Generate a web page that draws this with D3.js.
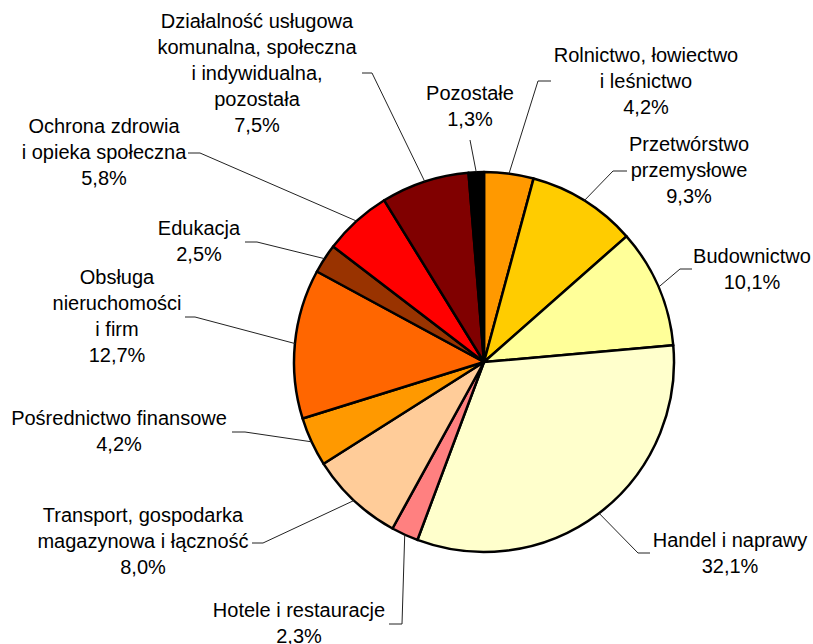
<!DOCTYPE html>
<html>
<head>
<meta charset="utf-8">
<script src="https://cdn.jsdelivr.net/npm/d3@7"></script>
<style>
  html, body { margin: 0; padding: 0; background: #fff; }
  svg { display: block; }
  text { font-family: "Liberation Sans", Arial, sans-serif; font-size: 20px; fill: #000; }
</style>
</head>
<body>
<svg id="chart" width="813" height="644"></svg>
<script>
// ---- data ----
const categories = [
  ["Rolnictwo, łowiectwo", "i leśnictwo"],
  ["Przetwórstwo", "przemysłowe"],
  ["Budownictwo"],
  ["Handel i naprawy"],
  ["Hotele i restauracje"],
  ["Transport, gospodarka", "magazynowa i łączność"],
  ["Pośrednictwo finansowe"],
  ["Obsługa", "nieruchomości", "i firm"],
  ["Edukacja"],
  ["Ochrona zdrowia", "i opieka społeczna"],
  ["Działalność usługowa", "komunalna, społeczna", "i indywidualna,", "pozostała"],
  ["Pozostałe"]
];
const values = [4.2, 9.3, 10.1, 32.1, 2.3, 8.0, 4.2, 12.7, 2.5, 5.8, 7.5, 1.3];
const colors = ["#FF9900", "#FFCC00", "#FFFF99", "#FFFFCC", "#FF8080", "#FFCC99",
                "#FF9900", "#FF6600", "#993300", "#FF0000", "#800000", "#000000"];

// ---- label layout (text centre x, first baseline y, elbow x/y, horizontal end x) ----
const labelLayout = [
  {tx: 646, ty: 62,  ex: 538, ey: 81,  hx: 551},
  {tx: 689, ty: 151, ex: 613, ey: 171, hx: 627},
  {tx: 752, ty: 263, ex: 680, ey: 269, hx: 692},
  {tx: 730, ty: 547, ex: 638, ey: 553, hx: 650},
  {tx: 299, ty: 617, ex: 402, ey: 624, hx: 389},
  {tx: 143, ty: 522, ex: 263, ey: 543, hx: 252},
  {tx: 119, ty: 425, ex: 245, ey: 432, hx: 232},
  {tx: 117, ty: 284, ex: 195, ey: 317, hx: 185},
  {tx: 199, ty: 235, ex: 257, ey: 242, hx: 245},
  {tx: 104, ty: 133, ex: 200, ey: 153, hx: 188},
  {tx: 257, ty: 28,  ex: 372, ey: 73,  hx: 362},
  {tx: 470, ty: 100, ex: 470, ey: 140, hx: 470}
];

const cx = 484, cy = 362, R = 190, lineH = 26;
const fmt = v => d3.format(".1f")(v).replace(".", ",") + "%";

const svg = d3.select("#chart");
const g = svg.append("g").attr("transform", `translate(${cx},${cy})`);

const pie = d3.pie().sort(null).value(d => d).startAngle(0).endAngle(2 * Math.PI);
const arcs = pie(values);
const arc = d3.arc().innerRadius(0).outerRadius(R);

g.selectAll("path.slice")
  .data(arcs)
  .join("path")
  .attr("class", "slice")
  .attr("d", arc)
  .attr("fill", (d, i) => colors[i])
  .attr("stroke", "#000")
  .attr("stroke-width", 2.5)
  .attr("stroke-linejoin", "round");

// leader lines
const edge = d => {
  const a = (d.startAngle + d.endAngle) / 2;
  return [cx + R * Math.sin(a), cy - R * Math.cos(a)];
};
svg.append("g").selectAll("polyline")
  .data(arcs)
  .join("polyline")
  .attr("fill", "none")
  .attr("stroke", "#222")
  .attr("stroke-width", 1)
  .attr("points", (d, i) => {
    const L = labelLayout[i];
    const p = edge(d);
    return [p, [L.ex, L.ey], [L.hx, L.ey]].map(q => q.join(",")).join(" ");
  });

// labels
const lbl = svg.append("g").selectAll("text")
  .data(arcs)
  .join("text")
  .attr("text-anchor", "middle")
  .attr("x", (d, i) => labelLayout[i].tx)
  .attr("y", (d, i) => labelLayout[i].ty);
lbl.each(function(d, i) {
  const t = d3.select(this);
  const lines = categories[i].concat([fmt(values[i])]);
  lines.forEach((s, k) => {
    t.append("tspan")
      .attr("x", labelLayout[i].tx)
      .attr("dy", k === 0 ? 0 : lineH)
      .text(s);
  });
});
</script>
</body>
</html>
